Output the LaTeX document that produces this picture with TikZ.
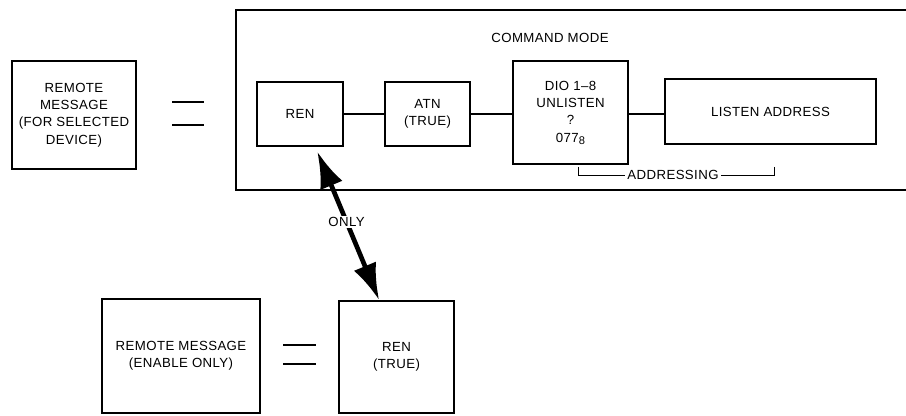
\documentclass[tikz,border=0pt]{standalone}
\usepackage{fontspec}
\setmainfont{Liberation Sans}[LetterSpace=3]
\usetikzlibrary{arrows.meta}

\begin{document}
\begin{tikzpicture}[
		blk/.style={shape=rectangle, draw, line width=1.5pt, align=center},
		wire/.style={line width=1.8pt},
		eqbar/.style={line width=1.6pt},
		dblarrow/.style={line width=4pt, {Latex[length=1.1cm, width=0.72cm]}-{Latex[length=1.1cm, width=0.72cm]}},
		font=\fontsize{11.3}{14.8}\selectfont]
			\useasboundingbox (0, 0) rectangle (27.18, 12.48);
			\clip (0, 0) rectangle (27.18, 12.48);
			% Frame and boxes:
			\node[shape=rectangle, draw, line width=2pt, minimum width=20.82cm, minimum height=5.4cm](cmdframe) at (17.49, 9.48){};
			\node(cmdlbl) at (16.5, 11.34){COMMAND MODE};
			\node[blk, minimum width=3.72cm, minimum height=3.24cm](RMsel) at (2.22, 9.03){REMOTE\\MESSAGE\\(FOR SELECTED\\DEVICE)};
			\node[blk, minimum width=2.58cm, minimum height=1.92cm](REN) at (9, 9.06){REN};
			\node[blk, minimum width=2.55cm, minimum height=1.92cm](ATN) at (12.825, 9.06){ATN\\(TRUE)};
			\node[blk, minimum width=3.45cm, minimum height=3.09cm](DIO) at (17.115, 9.1){DIO 1–8\\UNLISTEN\\?\\077{\fontsize{9.5}{10}\selectfont\raisebox{-0.4ex}{8}}};
			\node[blk, minimum width=6.33cm, minimum height=1.95cm](LSN) at (23.115, 9.13){LISTEN ADDRESS};
			\node[blk, minimum width=4.74cm, minimum height=3.42cm](RMen) at (5.43, 1.8){REMOTE MESSAGE\\(ENABLE ONLY)};
			\node[blk, minimum width=3.45cm, minimum height=3.36cm](RENtrue) at (11.895, 1.77){REN\\(TRUE)};
			% Wires:
			\draw[wire] (REN.east) -- (ATN.west);
			\draw[wire] (ATN.east) -- (ATN.east -| DIO.west);
			\draw[wire] (DIO.east |- ATN.east) -- (DIO.east |- ATN.east -| LSN.west);
			% Equal signs:
			\draw[eqbar] (5.16, 9.42) -- (6.12, 9.42);
			\draw[eqbar] (5.16, 8.73) -- (6.12, 8.73);
			\draw[eqbar] (8.49, 2.13) -- (9.48, 2.13);
			\draw[eqbar] (8.49, 1.56) -- (9.48, 1.56);
			% Addressing bracket:
			\node[inner sep=2pt](addr) at (20.19, 7.22){ADDRESSING};
			\draw[line width=0.8pt] (17.34, 7.47) |- (addr.west);
			\draw[line width=0.8pt] (23.22, 7.47) |- (addr.east);
			% Arrow:
			\draw[dblarrow, shorten <=0.15cm] (REN.-65) -- node[fill=white, inner sep=1pt, pos=0.49](only){ONLY} (RENtrue.107);
		\end{tikzpicture}
\end{document}
